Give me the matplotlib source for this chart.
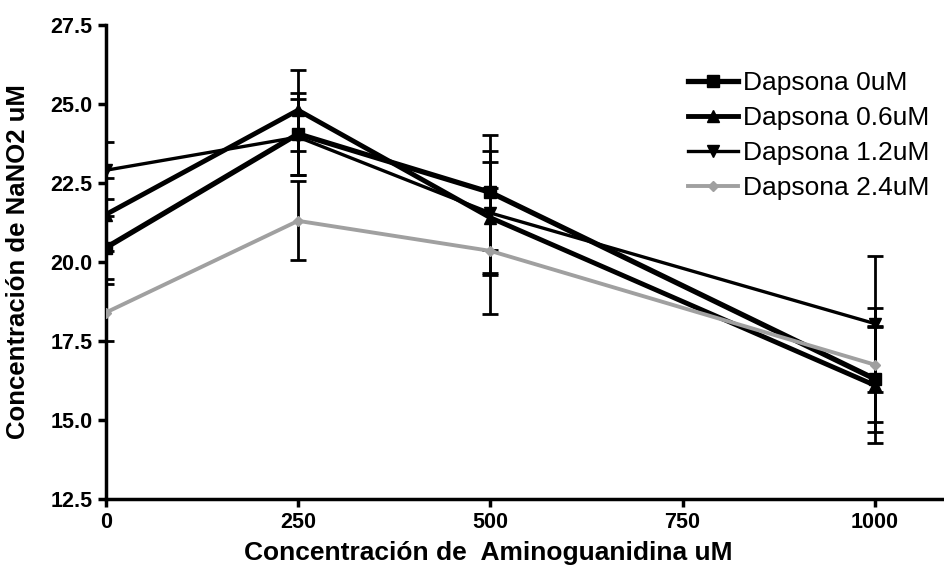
import matplotlib
matplotlib.use("Agg")
import matplotlib.pyplot as plt

# data
conc = [0, 250, 500, 1000]
labels = ["Dapsona 0uM", "Dapsona 0.6uM", "Dapsona 1.2uM", "Dapsona 2.4uM"]
d0 = [20.45, 24.05, 22.2, 16.3]
d0_err = [1.0, 1.3, 1.82, 1.67]
d06 = [21.5, 24.8, 21.4, 16.1]
d06_err = [1.15, 1.28, 1.75, 1.83]
d12 = [22.9, 23.95, 21.55, 18.05]
d12_err = [0.9, 1.2, 1.95, 2.15]
d24 = [18.4, 21.3, 20.35, 16.75]
d24_err = [0.9, 1.25, 2.0, 1.8]

yticks = [12.5, 15.0, 17.5, 20.0, 22.5, 25.0, 27.5]
xticks = [0, 250, 500, 750, 1000]

plt.rcParams["font.family"] = ["Liberation Sans", "DejaVu Sans"]

fig = plt.figure(figsize=(9.45, 5.77), dpi=100)
ax = fig.add_axes([0.112, 0.135, 0.887, 0.822])

series = [
    (d0, d0_err, dict(color="black", marker="s", lw=3.8, ms=9)),
    (d06, d06_err, dict(color="black", marker="^", lw=3.5, ms=9)),
    (d12, d12_err, dict(color="black", marker="v", lw=2.4, ms=8)),
    (d24, d24_err, dict(color="#a0a0a0", marker="D", lw=2.8, ms=5)),
]

for (vals, err, st), lab in zip(series, labels):
    ax.errorbar(conc, vals, yerr=err, fmt="none", ecolor="black",
                elinewidth=2, capsize=6, capthick=2, zorder=2)
    ax.plot(conc, vals, label=lab, zorder=3, **st)

ax.set_xlim(0, 1090)
ax.set_ylim(12.5, 27.5)
ax.set_xticks(xticks)
ax.set_yticks(yticks)
ax.set_yticklabels([f"{v:.1f}" for v in yticks])
ax.spines["top"].set_visible(False)
ax.spines["right"].set_visible(False)
for s in ("left", "bottom"):
    ax.spines[s].set_linewidth(2.5)
ax.tick_params(width=2.5, length=6, labelsize=15.5)
for t in ax.get_xticklabels() + ax.get_yticklabels():
    t.set_fontweight("bold")

ax.set_xlabel("Concentración de  Aminoguanidina uM", fontsize=19, fontweight="bold")
ax.xaxis.set_label_coords(0.456, -0.088)
ax.set_ylabel("Concentración de NaNO2 uM", fontsize=18.5, fontweight="bold")
ax.yaxis.set_label_coords(-0.09, 0.5)

ax.legend(loc="upper left", bbox_to_anchor=(0.682, 0.925), frameon=False,
          fontsize=19, handlelength=1.9, handletextpad=0.2, labelspacing=0.42,
          borderaxespad=0)

fig.savefig("out.png", dpi=100)
